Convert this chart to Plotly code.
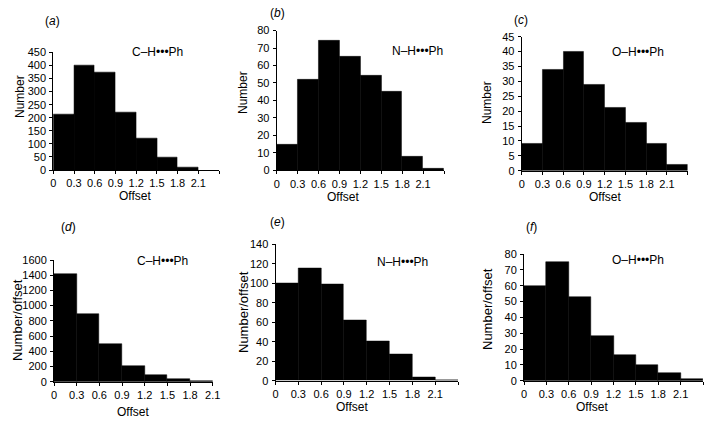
import plotly.graph_objects as go

W, H = 718, 427

# ---- data ----
bin_edges = [0.0, 0.3, 0.6, 0.9, 1.2, 1.5, 1.8, 2.1, 2.4]
ch_number = [213, 400, 372, 220, 122, 50, 10]
nh_number = [15, 52, 74, 65, 54, 45, 8, 1]
oh_number = [9, 34, 40, 29, 21, 16, 9, 2]
ch_per_offset = [1420, 890, 500, 212, 92, 32, 8]
nh_per_offset = [100, 115, 99, 62, 40, 27, 4, 0.5]
oh_per_offset = [60, 75, 53, 28, 16, 10, 5, 0.8]
tick_labels = ["0", "0.3", "0.6", "0.9", "1.2", "1.5", "1.8", "2.1", ""]

panels = [
    dict(vals=ch_number, tag="a", bond="C–H•••Ph", ytitle="Number", ymax=450, ydt=50, xmax=2.4,
         px=(53.3, 219), py=(52.4, 170), lab=(52, 21), bl=(157, 52), yt=(20, 97), xt=(135, 196)),
    dict(vals=nh_number, tag="b", bond="N–H•••Ph", ytitle="Number", ymax=80, ydt=10, xmax=2.4,
         px=(276.7, 444), py=(30.6, 170.3), lab=(277, 13), bl=(417, 51), yt=(243, 93), xt=(343, 197)),
    dict(vals=oh_number, tag="c", bond="O–H•••Ph", ytitle="Number", ymax=45, ydt=5, xmax=2.4,
         px=(521.7, 687.7), py=(36.7, 170.7), lab=(521, 20), bl=(638, 52), yt=(487, 103), xt=(605, 196.7)),
    dict(vals=ch_per_offset, tag="d", bond="C–H•••Ph", ytitle="Number/offset", ymax=1600, ydt=200, xmax=2.1,
         px=(54, 212.7), py=(260, 381.7), lab=(68, 227), bl=(162, 261), yt=(17, 320), xt=(133, 412)),
    dict(vals=nh_per_offset, tag="e", bond="N–H•••Ph", ytitle="Number/offset", ymax=140, ydt=20, xmax=2.4,
         px=(275.5, 458), py=(244.3, 380.7), lab=(277, 222), bl=(402, 262), yt=(243, 312), xt=(352, 406.7)),
    dict(vals=oh_per_offset, tag="f", bond="O–H•••Ph", ytitle="Number/offset", ymax=80, ydt=10, xmax=2.4,
         px=(524, 703), py=(254, 380.7), lab=(531, 227), bl=(638, 260), yt=(487, 309), xt=(592, 406.7)),
]

FONT = "Liberation Sans, Arial, sans-serif"

def fx(x):
    return x / W

def fy(y):
    return 1 - y / H

fig = go.Figure()
annotations = []
layout = {}

def ann(text, pos, size, angle=0):
    return dict(text=text, x=fx(pos[0]), y=fy(pos[1]), xref="paper", yref="paper",
                xanchor="center", yanchor="middle", showarrow=False, textangle=angle,
                font=dict(family=FONT, size=size, color="black"))

for i, p in enumerate(panels, start=1):
    sfx = "" if i == 1 else str(i)
    n = len(p["vals"])
    centers = [(bin_edges[k] + bin_edges[k + 1]) / 2 for k in range(n)]
    widths = [bin_edges[k + 1] - bin_edges[k] for k in range(n)]
    fig.add_trace(go.Bar(x=centers, y=p["vals"], width=widths,
                         marker=dict(color="black", line=dict(color="black", width=0.5)),
                         xaxis="x" + sfx, yaxis="y" + sfx, showlegend=False,
                         hoverinfo="skip"))
    nt = int(round(p["xmax"] / 0.3)) + 1
    xticks = bin_edges[:nt]
    xtext = tick_labels[:nt]
    if p["xmax"] == 2.1:
        xtext = tick_labels[:7] + ["2.1"]
    yticks = list(range(0, p["ymax"] + 1, p["ydt"]))
    layout["xaxis" + sfx] = dict(
        domain=[fx(p["px"][0]), fx(p["px"][1])], range=[0, p["xmax"]],
        anchor="y" + sfx, tickvals=xticks, ticktext=xtext,
        showline=True, linecolor="black", linewidth=1, ticks="outside",
        ticklen=3, tickwidth=1, tickcolor="black", showgrid=False, zeroline=False,
        automargin=False,
        tickfont=dict(family=FONT, size=11, color="black"), fixedrange=True)
    layout["yaxis" + sfx] = dict(
        domain=[fy(p["py"][1]), fy(p["py"][0])], range=[0, p["ymax"]],
        anchor="x" + sfx, tickvals=yticks,
        showline=True, linecolor="black", linewidth=1, ticks="outside",
        ticklen=3, tickwidth=1, tickcolor="black", showgrid=False, zeroline=False,
        ticklabelstandoff=1, automargin=False,
        tickfont=dict(family=FONT, size=11, color="black"), fixedrange=True)
    annotations.append(ann("(<i>%s</i>)" % p["tag"], p["lab"], 12))
    annotations.append(ann(p["bond"], p["bl"], 12))
    annotations.append(ann(p["ytitle"], p["yt"], 13 if "/" in p["ytitle"] else 12, -90))
    annotations.append(ann("Offset", p["xt"], 12))

fig.update_layout(
    width=W, height=H, margin=dict(l=0, r=0, t=0, b=0, autoexpand=False),
    paper_bgcolor="white", plot_bgcolor="white",
    bargap=0, annotations=annotations, showlegend=False,
    **layout)

fig.write_html("out.html", config={"displayModeBar": False},
               post_script="document.body.style.margin='0px';")
